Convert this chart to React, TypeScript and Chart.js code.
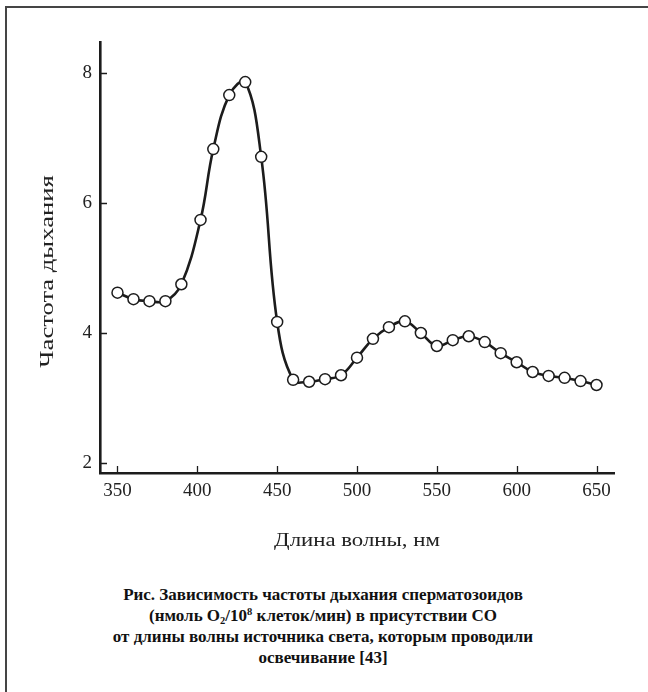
import React, { useEffect, useRef } from "react";
import { Chart, registerables } from "chart.js";

Chart.register(...registerables);

// Wavelength of light source, nm
const wavelengths = [
  350, 360, 370, 380, 390, 402, 410, 420, 430, 440, 450, 460, 470, 480, 490, 500,
  510, 520, 530, 540, 550, 560, 570, 580, 590, 600, 610, 620, 630, 640, 650,
];
// Respiration rate
const rates = [
  4.62, 4.52, 4.49, 4.49, 4.75, 5.74, 6.83, 7.66, 7.86, 6.71, 4.17, 3.28, 3.25, 3.29,
  3.35, 3.62, 3.91, 4.09, 4.18, 4.0, 3.8, 3.89, 3.95, 3.86, 3.69, 3.55, 3.4, 3.34,
  3.31, 3.26, 3.2,
];
const xTickValues = [350, 400, 450, 500, 550, 600, 650];
const yTickValues = [2, 4, 6, 8];

const xTitle = "Длина волны, нм";
const yTitle = "Частота дыхания";

const INK = "#1c1c1c";
const TEXT = "#222";
const SERIF = "'Liberation Serif', 'Times New Roman', serif";

const axisDecor = {
  id: "axisDecor",
  afterDraw(chart: any) {
    const { ctx, chartArea, scales } = chart;
    ctx.save();
    ctx.strokeStyle = INK;
    ctx.lineWidth = 1.3;
    ctx.beginPath();
    for (const v of xTickValues) {
      const px = Math.round(scales.x.getPixelForValue(v)) + 0.5;
      ctx.moveTo(px, chartArea.bottom);
      ctx.lineTo(px, chartArea.bottom - 7);
    }
    for (const v of yTickValues) {
      const py = Math.round(scales.y.getPixelForValue(v)) + 0.5;
      ctx.moveTo(chartArea.left, py);
      ctx.lineTo(chartArea.left + 7, py);
    }
    ctx.stroke();
    ctx.restore();

    // y-axis title (rotated)
    ctx.save();
    ctx.fillStyle = TEXT;
    ctx.font = `19px ${SERIF}`;
    ctx.textAlign = "center";
    ctx.textBaseline = "middle";
    ctx.translate(48, (chartArea.top + chartArea.bottom) / 2 + 14);
    ctx.rotate(-Math.PI / 2);
    ctx.scale(1.4, 1);
    ctx.fillText(yTitle, 0, 0);
    ctx.restore();

    // x-axis title
    ctx.save();
    ctx.fillStyle = TEXT;
    ctx.font = `19px ${SERIF}`;
    ctx.textAlign = "center";
    ctx.textBaseline = "middle";
    ctx.translate((chartArea.left + chartArea.right) / 2, 541);
    ctx.scale(1.2, 1);
    ctx.fillText(xTitle, 0, 0);
    ctx.restore();
  },
};

function RateChart() {
  const ref = useRef<HTMLCanvasElement | null>(null);
  useEffect(() => {
    if (!ref.current) return;
    const chart = new Chart(ref.current, {
      type: "line",
      data: {
        datasets: [
          {
            data: wavelengths.map((w, i) => ({ x: w, y: rates[i] })),
            borderColor: INK,
            borderWidth: 2.6,
            tension: 0.4,
            pointRadius: 5.5,
            pointBackgroundColor: "#fff",
            pointBorderColor: INK,
            pointBorderWidth: 1.5,
            fill: false,
          },
        ],
      },
      options: {
        animation: false,
        responsive: false,
        devicePixelRatio: 1,
        layout: { padding: { left: 0, top: 42, right: 34, bottom: 0 } },
        plugins: { legend: { display: false }, tooltip: { enabled: false } },
        scales: {
          x: {
            type: "linear",
            min: 339.04,
            max: 660.96,
            afterFit: (s: any) => {
              s.height = 83;
            },
            afterBuildTicks: (s: any) => {
              s.ticks = xTickValues.map((v) => ({ value: v }));
            },
            grid: { display: false, drawTicks: false },
            border: { display: true, color: INK, width: 2.6 },
            ticks: {
              color: TEXT,
              padding: 7,
              autoSkip: false,
              maxRotation: 0,
              font: { family: SERIF, size: 19 },
            },
          },
          y: {
            type: "linear",
            min: 1.846,
            max: 8.477,
            afterFit: (s: any) => {
              s.width = 100;
            },
            afterBuildTicks: (s: any) => {
              s.ticks = yTickValues.map((v) => ({ value: v }));
            },
            grid: { display: false, drawTicks: false },
            border: { display: true, color: INK, width: 2.6 },
            ticks: {
              color: TEXT,
              padding: 8,
              font: { family: SERIF, size: 19 },
            },
          },
        },
      },
      plugins: [axisDecor],
    });
    return () => chart.destroy();
  }, []);
  return (
    <canvas
      ref={ref}
      width={648}
      height={556}
      style={{ position: "absolute", left: 0, top: 0, width: 648, height: 556 }}
    />
  );
}

export default function App() {
  const subStyle: React.CSSProperties = { fontSize: "0.62em", lineHeight: 0, verticalAlign: "-0.25em" };
  const supStyle: React.CSSProperties = { fontSize: "0.62em", lineHeight: 0, verticalAlign: "0.55em" };
  return (
    <div
      style={{
        position: "absolute",
        left: 0,
        top: 0,
        width: 648,
        height: 692,
        overflow: "hidden",
        background: "#fff",
      }}
    >
      <div
        style={{
          position: "absolute",
          left: 5,
          top: 6,
          width: 720,
          height: 760,
          border: "2px solid #454545",
        }}
      />
      <RateChart />
      <div
        style={{
          position: "absolute",
          left: 0,
          top: 584,
          width: 646,
          textAlign: "center",
          fontFamily: SERIF,
          fontWeight: "bold",
          fontSize: 17,
          lineHeight: "21px",
          color: "#111",
        }}
      >
        Рис. Зависимость частоты дыхания сперматозоидов
        <br />
        (нмоль O<span style={subStyle}>2</span>/10<span style={supStyle}>8</span> клеток/мин) в присутствии СО
        <br />
        от длины волны источника света, которым проводили
        <br />
        освечивание [43]
      </div>
    </div>
  );
}
